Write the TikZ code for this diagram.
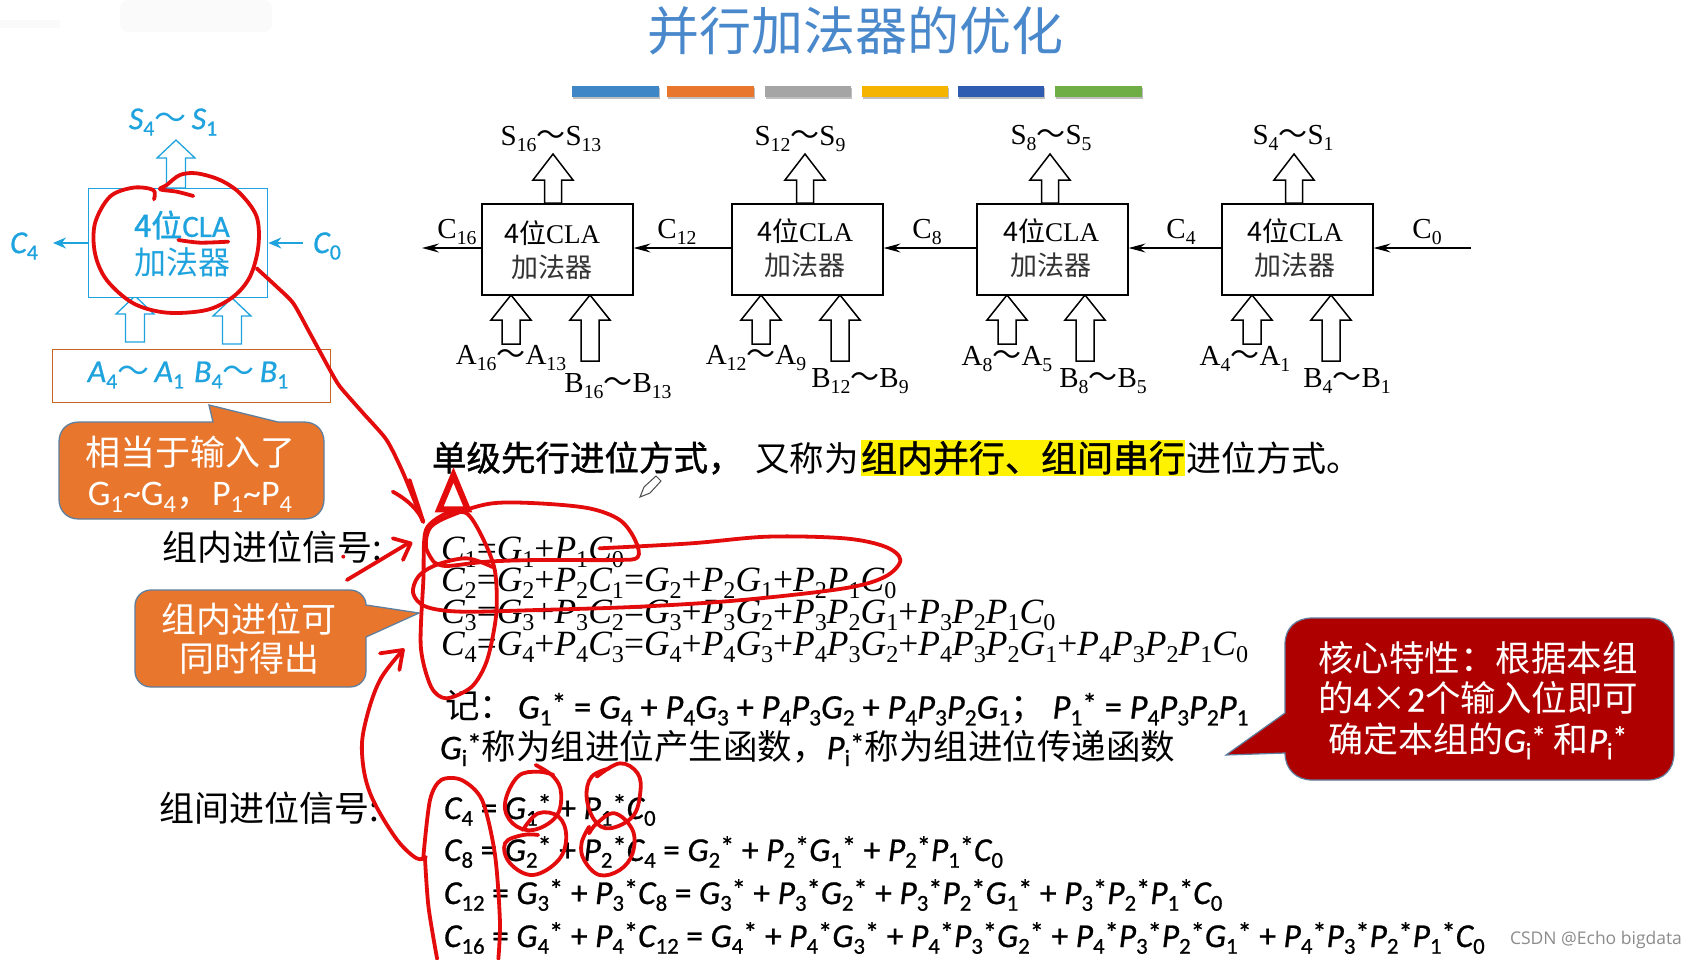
\documentclass[tikz,border=0pt]{standalone}
\usepackage{fontspec}
\usepackage{graphicx}
\usetikzlibrary{arrows.meta}
\setmainfont{Liberation Serif}
\newfontfamily\cjk{Noto Sans CJK SC}
\newfontfamily\cjkh[FakeBold=1.2]{Noto Sans CJK SC}
\newfontfamily\cbr{Carlito}
\newfontfamily\cbrh[FakeBold=0.7]{Carlito}
\newfontfamily\wm{Open Sans}
\definecolor{skyb}{HTML}{1FA3DE}
\definecolor{orgbox}{HTML}{E8762D}
\definecolor{orgedge}{HTML}{5F7F9F}
\definecolor{darkred}{HTML}{AF0000}
\definecolor{pen}{HTML}{E30B0B}
\definecolor{titleb}{HTML}{4A88CC}
\newcommand\fs[1]{\fontsize{#1}{#1}\selectfont}
\newcommand\sbs[1]{\raisebox{-0.2em}{\scalebox{0.68}{\upshape #1}}}
\newcommand\V[2]{\textit{#1}\sbs{#2}}
\newcommand\W[2]{\V{#1}{#2}\raisebox{.14em}{\scalebox{.85}{\upshape *}}}
\newcommand\tl{{\cjk ～}}
% centre x, head half width, head-base y, bottom y, shaft half width, line width; tip in \tipy
\newcommand\hollow[7][black]{\draw[#1,fill=white,line width=#7,line join=miter]
  (#2-#6,#5) -- (#2-#6,#4) -- (#2-#3,#4) -- (#2,\tipy) -- (#2+#3,#4) -- (#2+#6,#4) -- (#2+#6,#5) -- cycle;}
\tikzset{
  txt/.style={inner sep=0pt,outer sep=0pt},
  adder/.style={draw=black,line width=1.6pt,fill=white,inner sep=0pt,minimum width=151pt,minimum height=91pt,anchor=north west},
  bk/.style={txt,font=\fs{27}},
  bl/.style={txt,font=\fs{29}},
  cn/.style={txt,font=\fs{27}\cjk,text=black!80},
  eq/.style={txt,anchor=west,font=\fs{35.5}\itshape},
  eqc/.style={txt,anchor=west,font=\fs{34.5}\cbrh\itshape},
  eqg/.style={txt,anchor=west,font=\fs{33.5}\cbrh\itshape},
  sky/.style={txt,text=skyb,font=\fs{32}\cbrh\itshape},
  carry/.style={-{Stealth[length=17pt,width=9pt,inset=6pt]},line width=1.5pt,black},
  skyarrow/.style={-{Stealth[length=13pt,width=11pt]},line width=1.3pt,skyb},
  redpen/.style={draw=pen,line width=3.8pt,line cap=round,line join=round},
  zone/.style={x=.3333pt,y=-.3333pt,shift={(0pt,-90pt)}},
  zthree/.style={x=.5102pt,y=-.3333pt,shift={(130pt,-480pt)}},
  zfour/.style={x=.5102pt,y=-.3333pt,shift={(130pt,-720pt)}},
}
\begin{document}
\begin{tikzpicture}[x=1pt,y=-1pt]
\useasboundingbox (0,0) rectangle (1693,959);
\fill[white] (0,0) rectangle (1693,959);
% faint smudge
\fill[black!2,rounded corners=8pt] (120,0) rectangle (272,32);
\fill[black!2] (0,20) rectangle (60,28);
% title
\node[txt,text=titleb,font=\fs{52}\cjk] (title) at (855,31) {并行加法器的优化};
% colour bars
\foreach \a/\b/\c in {572/659/3F86C6,667/754/E8762D,765/851/A5A5A5,862/948/F5B400,958/1044/2F5BB0,1055/1142/6FAD47}{
  \fill[black!25] (\a+1,88) rectangle (\b+1,99);
  \definecolor{barc}{HTML}{\c}
  \fill[barc] (\a,86) rectangle (\b,97);
}
% left blue adder
\def\tipy{140}\hollow[skyb]{176}{19}{158}{188}{9.5}{1.3pt}
\def\tipy{296}\hollow[skyb]{135}{19}{314}{342}{9.5}{1.3pt}
\def\tipy{298}\hollow[skyb]{232}{19}{316}{344}{9.5}{1.3pt}
\node[draw=skyb,line width=1.3pt,fill=white,inner sep=0pt,minimum width=179pt,minimum height=109pt,anchor=north west] (lbox) at (88,188) {};
\node[txt,text=skyb,font=\fs{31}] (l1) at (182,225) {{\cjkh 4位}{\cbrh CLA}};
\node[txt,text=skyb,font=\fs{32}\cjk] (l2) at (182,262) {加法器};
\coordinate (lc4) at (53,243);
\coordinate (lc0) at (303,243);
\draw[skyarrow] (lbox.west |- lc4) -- (lc4);
\draw[skyarrow] (lc0) -- (lbox.east |- lc0);
\node[sky] (ls) at (173,122) {\V{S}{4}\tl\,\V{S}{1}};
\node[sky] (lcf) at (24,246) {\V{C}{4}};
\node[sky] (lcz) at (327,246) {\V{C}{0}};
\node[draw=orgbox!85!black,line width=1.2pt,fill=white,minimum width=278pt,minimum height=53pt,inner sep=0pt,anchor=north west] (inbox) at (52,349) {};
\node[sky] (lab) at (188,375) {\V{A}{4}\tl\,\V{A}{1}\hspace{10pt}\V{B}{4}\tl\,\V{B}{1}};
% callout 1
\draw[orgedge,fill=orgbox,line width=1.3pt] (213,422) -- (209,405) -- (278,422) -- (304,422) .. controls (316,422) and (324,430) .. (324,442) -- (324,499) .. controls (324,511) and (316,519) .. (304,519) -- (79,519) .. controls (67,519) and (59,511) .. (59,499) -- (59,442) .. controls (59,430) and (67,422) .. (79,422) -- cycle;
\node[txt,text=white,font=\fs{35}\cjk] (co1a) at (190,452) {相当于输入了};
\node[txt,text=white,font=\fs{36}\cbr] (co1b) at (190,497) {\V{\upshape G}{1}\textasciitilde\V{\upshape G}{4}{\cjk ，}\V{\upshape P}{1}\textasciitilde\V{\upshape P}{4}};
% block diagram
\foreach \n/\bx/\ax/\bb/\by in {a/553/511/590/361,b/805/761/840/361,c/1050/1007/1085/361,d/1294/1252/1331/361}{
  \def\tipy{154}\hollow{\bx}{20}{180}{203}{8.5}{1.5pt}
  \def\tipy{295}\hollow{\ax}{20}{320}{344}{9}{1.5pt}
  \def\tipy{295}\hollow{\bb}{20}{320}{\by}{9}{1.5pt}
}
\node[adder] (b1) at (481,203) {};
\node[adder] (b2) at (731,203) {};
\node[adder] (b3) at (976,203) {};
\node[adder] (b4) at (1221,203) {};
\node[bk] (b1t) at (552,233) {{\cjk 4位}CLA};
\node[cn] (b1u) at (552,267) {加法器};
\node[bk] (b2t) at (805,231) {{\cjk 4位}CLA};
\node[cn] (b2u) at (805,265) {加法器};
\node[bk] (b3t) at (1051,231) {{\cjk 4位}CLA};
\node[cn] (b3u) at (1051,265) {加法器};
\node[bk] (b4t) at (1295,231) {{\cjk 4位}CLA};
\node[cn] (b4u) at (1295,265) {加法器};
\coordinate (cout) at (422,248);
\coordinate (cin) at (1471,248);
\draw[carry] (b1.west |- cout) -- (cout);
\draw[carry] (b2.west |- cout) -- (b1.east |- cout);
\draw[carry] (b3.west |- cout) -- (b2.east |- cout);
\draw[carry] (b4.west |- cout) -- (b3.east |- cout);
\draw[carry] (cin) -- (b4.east |- cin);
\newcommand\Sb[2]{\textup{#1}\sbs{#2}}
\node[bl] (c16) at (457,232) {\Sb{C}{16}};
\node[bl] (c12) at (677,232) {\Sb{C}{12}};
\node[bl] (c8) at (927,232) {\Sb{C}{8}};
\node[bl] (c4) at (1181,232) {\Sb{C}{4}};
\node[bl] (c0) at (1427,232) {\Sb{C}{0}};
\node[bl] (s1) at (551,139) {\Sb{S}{16}\tl\Sb{S}{13}};
\node[bl] (s2) at (800,139) {\Sb{S}{12}\tl\Sb{S}{9}};
\node[bl] (s3) at (1051,138) {\Sb{S}{8}\tl\Sb{S}{5}};
\node[bl] (s4) at (1293,138) {\Sb{S}{4}\tl\Sb{S}{1}};
\node[bl] (a1) at (511,358) {\Sb{A}{16}\tl\Sb{A}{13}};
\node[bl] (a2) at (756,358) {\Sb{A}{12}\tl\Sb{A}{9}};
\node[bl] (a3) at (1007,359) {\Sb{A}{8}\tl\Sb{A}{5}};
\node[bl] (a4) at (1245,359) {\Sb{A}{4}\tl\Sb{A}{1}};
\node[bl] (bb1) at (618,386) {\Sb{B}{16}\tl\Sb{B}{13}};
\node[bl] (bb2) at (860,381) {\Sb{B}{12}\tl\Sb{B}{9}};
\node[bl] (bb3) at (1103,381) {\Sb{B}{8}\tl\Sb{B}{5}};
\node[bl] (bb4) at (1347,381) {\Sb{B}{4}\tl\Sb{B}{1}};
% headline
\fill[yellow] (861,440) rectangle (1185,476);
\node[txt,anchor=west,font=\fs{34.5}\cjkh] (heada) at (432,458) {单级先行进位方式，};
\node[txt,anchor=west,font=\fs{34.5}\cjk] (headb) at (755,458) {又称为};
\node[txt,anchor=west,font=\fs{36}\cjkh] (headc) at (861,458) {组内并行、组间串行};
\node[txt,anchor=west,font=\fs{35}\cjk] (headd) at (1186,458) {进位方式。};
% row labels
\node[txt,anchor=west,font=\fs{35}\cjk] (intra) at (162,547) {组内进位信号:};
\node[txt,anchor=west,font=\fs{35}\cjk] (inter) at (159,808) {组间进位信号:};
% intra-group equations
\node[eq] (e1) at (441,552) {\V C1\textup{=}\V G1\textup{+}\V P1\V C0};
\node[eq] (e2) at (441,583) {\V C2\textup{=}\V G2\textup{+}\V P2\V C1\textup{=}\V G2\textup{+}\V P2\V G1\textup{+}\V P2\V P1\V C0};
\node[eq] (e3) at (441,615) {\V C3\textup{=}\V G3\textup{+}\V P3\V C2\textup{=}\V G3\textup{+}\V P3\V G2\textup{+}\V P3\V P2\V G1\textup{+}\V P3\V P2\V P1\V C0};
\node[eq] (e4) at (441,647) {\V C4\textup{=}\V G4\textup{+}\V P4\V C3\textup{=}\V G4\textup{+}\V P4\V G3\textup{+}\V P4\V P3\V G2\textup{+}\V P4\V P3\V P2\V G1\textup{+}\V P4\V P3\V P2\V P1\V C0};
% callout 2
\draw[orgedge,fill=orgbox,line width=1.3pt] (366,605) -- (419,613) -- (366,637) -- (366,671) .. controls (366,680) and (359,687) .. (350,687) -- (151,687) .. controls (142,687) and (135,680) .. (135,671) -- (135,606) .. controls (135,597) and (142,590) .. (151,590) -- (350,590) .. controls (359,590) and (366,597) .. (366,605) -- cycle;
\node[txt,text=white,font=\fs{35}\cjk] (co2a) at (249,619) {组内进位可};
\node[txt,text=white,font=\fs{35}\cjk] (co2b) at (249,658) {同时得出};
% definitions
\node[eqc] (d1) at (445,708) {{\cjk\slshape 记：}\hspace{4pt}\W G1 \textup{=} \V G4 \textup{+} \V P4\V G3 \textup{+} \V P4\V P3\V G2 \textup{+} \V P4\V P3\V P2\V G1{\upshape\cjk ；} \W P1 \textup{=} \V P4\V P3\V P2\V P1};
\node[eqc] (d2) at (440,748) {\W Gi{\upshape\cjk 称为组进位产生函数，}\W Pi{\upshape\cjk 称为组进位传递函数}};
% inter-group equations
\node[eqg] (g1) at (444,810) {\V C4 \textup{=} \W G1 \textup{+} \W P1\V C0};
\node[eqg] (g2) at (444,852) {\V C8 \textup{=} \W G2 \textup{+} \W P2\V C4 \textup{=} \W G2 \textup{+} \W P2\W G1 \textup{+} \W P2\W P1\V C0};
\node[eqg] (g3) at (444,895) {\V C{12} \textup{=} \W G3 \textup{+} \W P3\V C8 \textup{=} \W G3 \textup{+} \W P3\W G2 \textup{+} \W P3\W P2\W G1 \textup{+} \W P3\W P2\W P1\V C0};
\node[eqg] (g4) at (444,938) {\V C{16} \textup{=} \W G4 \textup{+} \W P4\V C{12} \textup{=} \W G4 \textup{+} \W P4\W G3 \textup{+} \W P4\W P3\W G2 \textup{+} \W P4\W P3\W P2\W G1 \textup{+} \W P4\W P3\W P2\W P1\V C0};
% red callout
\draw[orgedge,fill=darkred,line width=1.2pt] (1285,713) -- (1226,755) -- (1285,753) .. controls (1285,769) and (1296,780) .. (1312,780) -- (1648,780) .. controls (1664,780) and (1674,769) .. (1674,753) -- (1674,644) .. controls (1674,628) and (1664,618) .. (1648,618) -- (1312,618) .. controls (1296,618) and (1285,628) .. (1285,644) -- cycle;
\node[txt,text=white,font=\fs{35.5}\cjk] (r1) at (1478,658) {核心特性：根据本组};
\node[txt,text=white,font=\fs{35.5}\cjk] (r2) at (1478,698) {的{\cbrh 4}×{\cbrh 2}个输入位即可};
\node[txt,text=white,font=\fs{35}\cjk] (r3) at (1478,741) {确定本组的{\cbrh\W Gi} 和{\cbrh\W Pi}};
% watermark
\node[txt,text=black!45,font=\fs{17.5}\wm] (mark) at (1596,940) {CSDN @Echo bigdata};
% pencil cursor
\draw[black!70,fill=white,line width=1pt] (640,497) -- (644,487) -- (656,476) -- (661,481) -- (650,493) -- cycle;
% --- red pen annotations ---
\begin{scope}[zone]
\draw[redpen] plot[smooth,tension=.55] coordinates {(462,328)(460,300)(400,293)(330,320)(285,400)(285,490)(320,570)(400,640)(500,668)(620,660)(700,620)(750,560)(775,470)(770,380)(720,310)(660,270)(590,250)(540,255)(500,285)(480,298)(530,305)(580,318)};
\draw[redpen] plot[smooth,tension=.5] coordinates {(535,450)(600,458)(685,455)};
\draw[redpen] plot[smooth,tension=.4] coordinates {(770,535)(830,590)(880,640)(930,730)(990,840)(1020,890)(1090,970)(1160,1050)(1210,1150)(1269,1296)};
\end{scope}
\begin{scope}[zthree]
\draw[redpen] (515,35) .. controls (545,60) and (565,90) .. (575,125);
\draw[redpen] (548,0) -- (575,125);
\draw[redpen,line width=6pt,fill=white,line join=miter] (606,88) -- (634,-15) -- (662,88) -- cycle;
\draw[redpen] plot[smooth,tension=.55] coordinates {(595,245)(580,200)(590,140)(640,100)(710,70)(800,70)(900,85)(960,120)(990,180)(995,232)(950,240)(800,240)(700,245)(620,258)(595,245)};
\draw[redpen] plot[smooth,tension=.55] coordinates {(920,205)(1100,190)(1250,170)(1400,175)(1480,200)(1510,240)(1480,290)(1400,325)(1200,360)(1000,380)(800,390)(650,395)(580,380)(555,340)(565,290)(600,255)(660,235)(712,262)};
\draw[redpen] plot[smooth,tension=.5] coordinates {(620,100)(660,100)(690,170)(715,270)(718,400)(700,540)(670,620)(620,655)(590,620)(570,500)(575,300)(580,150)(620,100)};
\draw[redpen] (425,300) -- (545,190);
\draw[redpen] (515,175) -- (550,190) -- (535,240);
\fill[pen] (418,230) circle[radius=2pt];
\draw[redpen] (490,520) -- (535,510) -- (528,570);
\end{scope}
\draw[redpen] plot[smooth,tension=.6] coordinates {(403,650)(380,680)(366,720)(362,753)(370,793)(395,837)(416,858)(426,857)};
\begin{scope}[zfour]
\draw[redpen] plot[smooth,tension=.5] coordinates {(575,410)(588,240)(610,180)(650,180)(690,240)(715,400)(725,600)(722,717)};
\draw[redpen] plot[smooth,tension=.5] coordinates {(578,410)(585,560)(602,717)};
\draw[redpen] plot[smooth,tension=.65] coordinates {(795,135)(830,170)(845,220)(835,290)(790,330)(750,310)(735,250)(760,170)(800,155)(830,165)};
\draw[redpen] plot[smooth,tension=.65] coordinates {(915,170)(960,130)(995,160)(1000,220)(985,290)(940,325)(910,300)(895,230)(905,170)(940,145)};
\draw[redpen] plot[smooth,tension=.65] coordinates {(770,330)(800,280)(840,290)(855,350)(840,420)(790,465)(745,430)(735,370)(770,345)(800,345)};
\draw[redpen] plot[smooth,tension=.65] coordinates {(900,340)(915,310)(950,280)(985,330)(985,400)(960,450)(920,465)(890,420)(885,370)(900,320)};
\end{scope}
\end{tikzpicture}
\end{document}
